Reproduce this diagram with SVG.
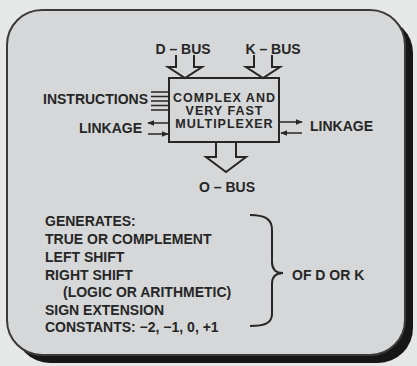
<svg xmlns="http://www.w3.org/2000/svg" width="417" height="366" viewBox="0 0 417 366">
<defs>
<style>
text{font-family:"Liberation Sans",Arial,sans-serif;font-weight:bold;font-size:14px;fill:#262626}
.box{font-size:12.5px;letter-spacing:1px}
.ln{stroke:#262626;stroke-width:2;fill:none}
.th{stroke:#262626;stroke-width:1.5;fill:none}
</style>
<marker id="ah" viewBox="0 0 10 10" refX="9" refY="5" markerWidth="7" markerHeight="7" markerUnits="userSpaceOnUse" orient="auto"><path d="M0,1 L10,5 L0,9 z" fill="#262626"/></marker>
</defs>
<rect width="417" height="366" fill="#e6e7e7"/>
<g id="frame">
<rect x="15" y="18" width="398" height="345" rx="35" fill="#161616"/>
<rect x="7" y="10" width="398" height="345" rx="35" fill="#d5d7d8" stroke="#3a3a3a" stroke-width="2"/>
</g>
<g id="connectors">
<path class="ln" d="M176,55 V67 H168 L185,78 L202,67 H194 V55"/>
<path class="ln" d="M254,55 V67 H246 L263,78 L280,67 H272 V55"/>
<path class="ln" d="M216,142 V157 H206 L226,172 L246,157 H236 V142"/>
<g class="th">
<path d="M151,92 H169 M151,96.5 H169 M151,101 H169 M151,105.5 H169 M151,110 H169"/>
</g>
<line class="th" x1="168" y1="123" x2="148" y2="123" marker-end="url(#ah)"/>
<line class="th" x1="148" y1="134" x2="168" y2="134" marker-end="url(#ah)"/>
<line class="th" x1="280" y1="122" x2="302" y2="122" marker-end="url(#ah)"/>
<line class="th" x1="302" y1="133" x2="281" y2="133" marker-end="url(#ah)"/>
<path class="ln" d="M250,215 C265,215 272,219 272,230 V262 C272,270 276,273 283,273 C276,273 272,276 272,284 V314 C272,323 265,326 250,326"/>
</g>
<g id="mux">
<rect x="169" y="78" width="110" height="64" fill="none" stroke="#262626" stroke-width="2"/>
<text class="box" x="224.5" y="102" text-anchor="middle">COMPLEX AND</text>
<text class="box" x="224.5" y="115" text-anchor="middle">VERY FAST</text>
<text class="box" x="224.5" y="128" text-anchor="middle">MULTIPLEXER</text>
</g>
<g id="dbus"><text x="183" y="54" text-anchor="middle" font-size="13.5">D – BUS</text></g>
<g id="kbus"><text x="273" y="54" text-anchor="middle" font-size="13.5">K – BUS</text></g>
<g id="obus"><text x="227" y="192" text-anchor="middle" font-size="13.5">O – BUS</text></g>
<g id="instructions"><text x="148" y="104" text-anchor="end">INSTRUCTIONS</text></g>
<g id="linkage-left"><text x="142" y="133" text-anchor="end">LINKAGE</text></g>
<g id="linkage-right"><text x="310" y="131">LINKAGE</text></g>
<g id="generates">
<text x="45" y="226">GENERATES:</text>
<text x="45" y="244">TRUE OR COMPLEMENT</text>
<text x="45" y="262">LEFT SHIFT</text>
<text x="45" y="280">RIGHT SHIFT</text>
<text x="63" y="297">(LOGIC OR ARITHMETIC)</text>
<text x="45" y="315">SIGN EXTENSION</text>
<text x="45" y="332">CONSTANTS: −2, −1, 0, +1</text>
</g>
<g id="ofdork"><text x="292" y="280">OF D OR K</text></g>
</svg>
